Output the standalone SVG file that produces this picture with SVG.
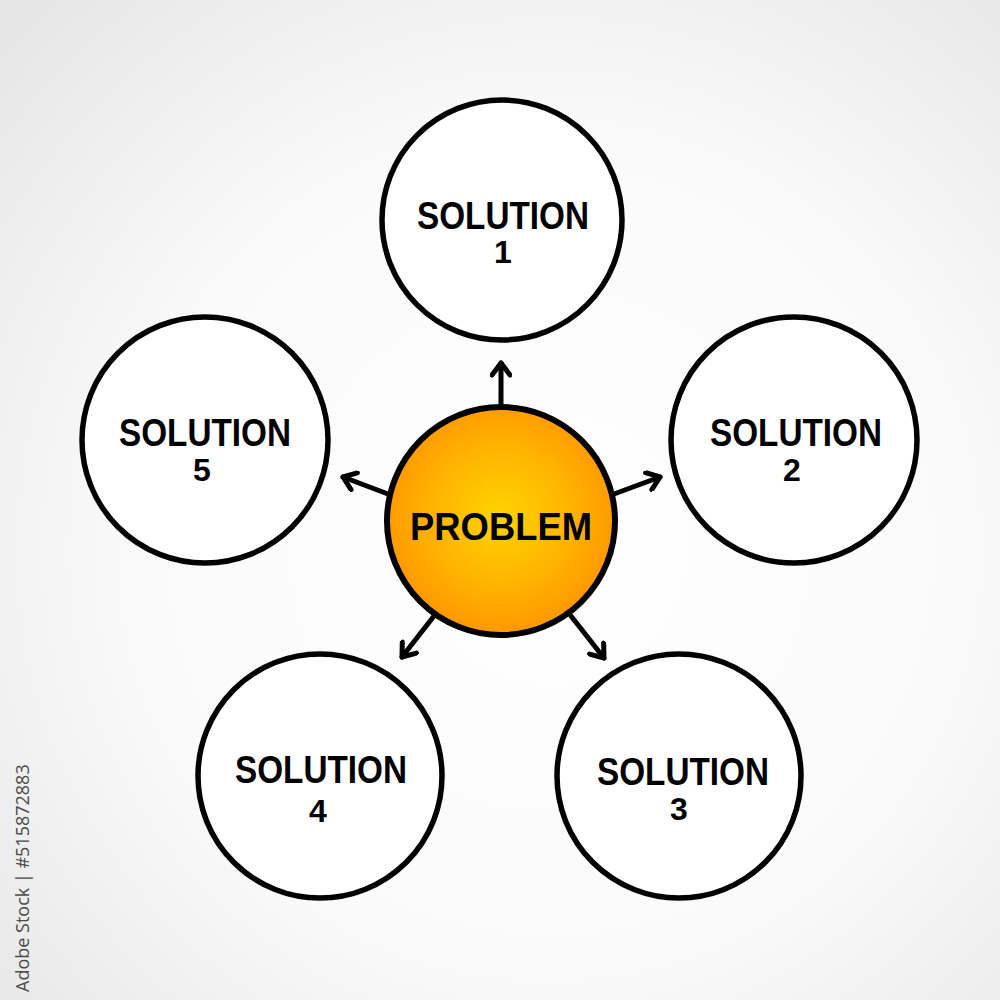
<svg xmlns="http://www.w3.org/2000/svg" width="1000" height="1000" viewBox="0 0 1000 1000">
  <defs>
    <radialGradient id="bg" cx="0.55" cy="0.55" r="0.75">
      <stop offset="0" stop-color="#ffffff"/>
      <stop offset="0.55" stop-color="#fafafa"/>
      <stop offset="1" stop-color="#e6e6e6"/>
    </radialGradient>
    <radialGradient id="orange" cx="0.5" cy="0.48" r="0.5">
      <stop offset="0" stop-color="#ffd400"/>
      <stop offset="0.6" stop-color="#ffb400"/>
      <stop offset="1" stop-color="#ff9a00"/>
    </radialGradient>
    <marker id="head" viewBox="0 0 22 22" refX="17" refY="11" markerWidth="22" markerHeight="22" markerUnits="userSpaceOnUse" orient="auto">
      <path d="M5,2 L17,11 L5,20" fill="none" stroke="#000" stroke-width="5" stroke-linecap="round" stroke-linejoin="round"/>
    </marker>
    <style>
      .sol { fill: #ffffff; stroke: #000; stroke-width: 5.5; }
      .prob { fill: url(#orange); stroke: #000; stroke-width: 6; }
      .lbl { font-family: "Liberation Sans", "DejaVu Sans", sans-serif; font-weight: bold; font-size: 38px; fill: #000; text-anchor: middle; }
      .num { font-size: 32px; }
      .conn { stroke: #000; stroke-width: 5; fill: none; stroke-linecap: round; marker-end: url(#head); }
      .stock { font-family: "Open Sans", "DejaVu Sans", sans-serif; font-size: 18px; fill: #4a4a4a; }
    </style>
  </defs>
  <rect x="0" y="0" width="1000" height="1000" fill="url(#bg)"/>

  <g id="connectors">
    <line class="conn" x1="501" y1="406" x2="501" y2="363"/>
    <line class="conn" x1="614" y1="494" x2="660" y2="477"/>
    <line class="conn" x1="388" y1="494" x2="343" y2="477"/>
    <line class="conn" x1="434" y1="616" x2="402" y2="657"/>
    <line class="conn" x1="571" y1="616" x2="604" y2="658"/>
  </g>

  <g id="solution1">
    <circle class="sol" cx="502" cy="220" r="120"/>
    <text class="lbl" x="503" y="229"><tspan x="503" textLength="172" lengthAdjust="spacingAndGlyphs">SOLUTION</tspan><tspan class="num" x="503" dy="34">1</tspan></text>
  </g>
  <g id="solution2">
    <circle class="sol" cx="794" cy="440" r="123"/>
    <text class="lbl" x="796" y="446"><tspan x="796" textLength="172" lengthAdjust="spacingAndGlyphs">SOLUTION</tspan><tspan class="num" x="792" dy="35">2</tspan></text>
  </g>
  <g id="solution3">
    <circle class="sol" cx="679" cy="776" r="122"/>
    <text class="lbl" x="683" y="785"><tspan x="683" textLength="172" lengthAdjust="spacingAndGlyphs">SOLUTION</tspan><tspan class="num" x="679" dy="35">3</tspan></text>
  </g>
  <g id="solution4">
    <circle class="sol" cx="320" cy="776" r="122"/>
    <text class="lbl" x="321" y="783"><tspan x="321" textLength="172" lengthAdjust="spacingAndGlyphs">SOLUTION</tspan><tspan class="num" x="318" dy="39">4</tspan></text>
  </g>
  <g id="solution5">
    <circle class="sol" cx="205" cy="440" r="123"/>
    <text class="lbl" x="205" y="446"><tspan x="205" textLength="172" lengthAdjust="spacingAndGlyphs">SOLUTION</tspan><tspan class="num" x="202" dy="35">5</tspan></text>
  </g>
  <g id="problem">
    <circle class="prob" cx="501" cy="521" r="114"/>
    <text class="lbl" x="501" y="540" font-size="46" textLength="182" lengthAdjust="spacingAndGlyphs">PROBLEM</text>
  </g>

  <text class="stock" transform="translate(29,992) rotate(-90)">Adobe Stock | #515872883</text>
</svg>
